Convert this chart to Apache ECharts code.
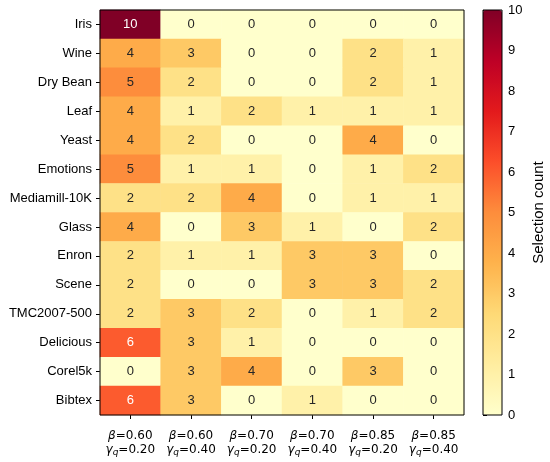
<!DOCTYPE html>
<html><head><meta charset="utf-8">
<script src="https://cdn.jsdelivr.net/npm/echarts@6/dist/echarts.min.js"></script>
<style>html,body{margin:0;padding:0;background:#fff}#c{width:550px;height:462px}</style>
</head><body><div id="c"></div>
<script>
const datasets = ['Iris','Wine','Dry Bean','Leaf','Yeast','Emotions','Mediamill-10K','Glass','Enron','Scene','TMC2007-500','Delicious','Corel5k','Bibtex'];
const betas = ['0.60','0.60','0.70','0.70','0.85','0.85'];
const gammas = ['0.20','0.40','0.20','0.40','0.20','0.40'];
const counts = [
  [10,0,0,0,0,0],
  [4,3,0,0,2,1],
  [5,2,0,0,2,1],
  [4,1,2,1,1,1],
  [4,2,0,0,4,0],
  [5,1,1,0,1,2],
  [2,2,4,0,1,1],
  [4,0,3,1,0,2],
  [2,1,1,3,3,0],
  [2,0,0,3,3,2],
  [2,3,2,0,1,2],
  [6,3,1,0,0,0],
  [0,3,4,0,3,0],
  [6,3,0,1,0,0]
];
const colorTicks = [0,1,2,3,4,5,6,7,8,9,10];
const ylorrd = ['#ffffcc','#ffeda0','#fed976','#feb24c','#fd8d3c','#fc4e2a','#e31a1c','#bd0026','#800026'];

const cols = betas.map((b,i)=>i);
const data = [];
counts.forEach((row,r)=>row.forEach((v,c)=>{
  data.push({value:[c,r,v], label:{color: v>=6 ? '#ffffff' : '#262626'}});
}));

const F = 'Liberation Sans';
const M = 'DejaVu Sans';
const chart = echarts.init(document.getElementById('c'));
chart.setOption({
  animation:false,
  textStyle:{fontFamily:F},
  grid:[
    {left:100,top:10,width:364,height:405,show:true,borderColor:'#000',borderWidth:1,backgroundColor:'transparent',z:3},
    {left:483,top:10,width:19,height:405,show:true,borderColor:'#000',borderWidth:1,backgroundColor:'transparent',z:10}
  ],
  xAxis:[
    {type:'category',gridIndex:0,data:cols,position:'bottom',
     axisLine:{show:false},
     axisTick:{show:true,length:4,lineStyle:{color:'#000'},alignWithLabel:true},
     splitLine:{show:false},
     axisLabel:{margin:14,fontFamily:M,fontSize:12,color:'#000',interval:0,
       formatter:(v,i)=>'{i|β}{t|='+betas[i]+'}\n{i|γ}{s|q}{t|='+gammas[i]+'}',
       rich:{
         i:{fontFamily:M,fontStyle:'italic',fontSize:12,color:'#000',lineHeight:14},
         t:{fontFamily:M,fontSize:12,color:'#000',lineHeight:14},
         s:{fontFamily:M,fontStyle:'italic',fontSize:9,color:'#000',verticalAlign:'bottom',lineHeight:12,padding:[5,0,0,0]}
       }}},
    {type:'value',gridIndex:1,show:false,min:0,max:1}
  ],
  yAxis:[
    {type:'category',gridIndex:0,data:datasets,inverse:true,
     axisLine:{show:false},
     axisTick:{show:true,length:4,lineStyle:{color:'#000'},alignWithLabel:true},
     splitLine:{show:false},
     axisLabel:{margin:8,fontFamily:F,fontSize:13,color:'#000',interval:0}},
    {type:'value',gridIndex:1,position:'right',min:0,max:10,interval:1,
     axisLine:{show:false},
     axisTick:{show:true,length:4,lineStyle:{color:'#000'}},
     splitLine:{show:false},
     axisLabel:{margin:6,fontFamily:F,fontSize:13,color:'#000',
       formatter:v=>colorTicks.includes(v)?String(v):''},
     name:'Selection count',nameLocation:'middle',nameRotate:90,nameGap:29,
     nameTextStyle:{fontFamily:F,fontSize:15,color:'#000'}}
  ],
  visualMap:{
    type:'continuous',min:0,max:10,calculable:false,seriesIndex:0,
    inRange:{color:ylorrd},
    orient:'vertical',left:483,top:10,itemWidth:19,itemHeight:405,
    padding:0,text:['',''],showLabel:false,hoverLink:false,z:2
  },
  series:[{
    type:'heatmap',xAxisIndex:0,yAxisIndex:0,data:data,
    label:{show:true,fontFamily:F,fontSize:13,formatter:p=>String(p.value[2])},
    itemStyle:{borderWidth:0},
    emphasis:{disabled:true}
  }]
});
</script></body></html>
